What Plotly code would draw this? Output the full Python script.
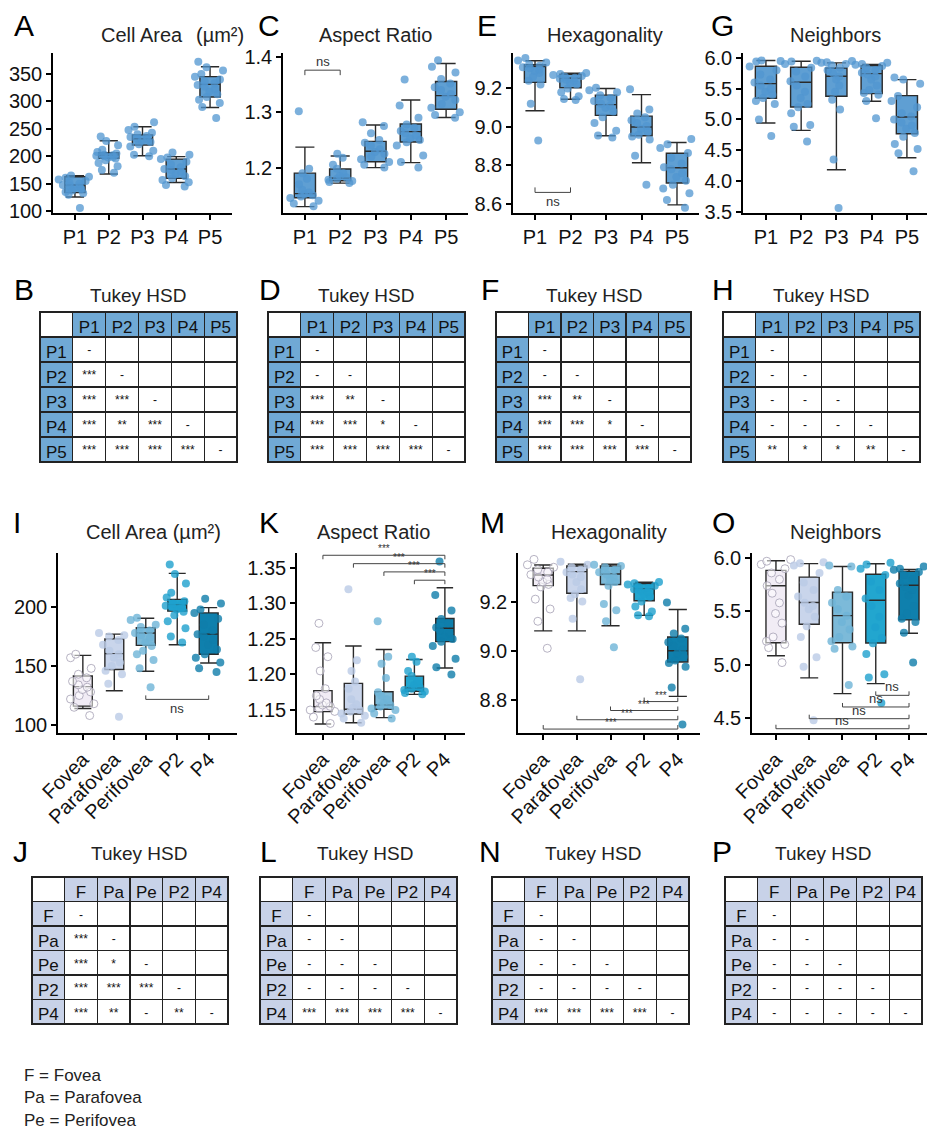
import plotly.graph_objects as go

W, H = 927, 1130
FONT = "Arial, Liberation Sans, sans-serif"


def px(x):
    return x / W


def py(y):
    return 1 - y / H


top_cats = ["P1", "P2", "P3", "P4", "P5"]
bot_cats = ["Fovea", "Parafovea", "Perifovea", "P2", "P4"]

# ---------------- Cell area ----------------
area_p1 = [165, 163, 161, 158, 155, 152, 150, 148, 147, 145, 143, 140, 138, 135, 133, 130, 106]
area_p2 = [236, 228, 220, 212, 208, 205, 203, 202, 201, 200, 199, 198, 196, 193, 188, 182, 175, 170]
area_p3 = [262, 254, 248, 243, 240, 237, 235, 233, 231, 229, 226, 222, 218, 210, 203, 200]
area_p4 = [207, 203, 198, 195, 190, 185, 180, 177, 175, 172, 168, 164, 160, 157, 153, 148, 145]
area_p5 = [372, 362, 356, 350, 345, 340, 336, 333, 330, 327, 323, 318, 313, 308, 303, 297, 290, 270]
area_fov = [160, 157, 148, 143, 140, 137, 134, 132, 130, 128, 125, 122, 118, 115, 108]
area_para = [178, 176, 175, 172, 168, 163, 160, 157, 153, 150, 146, 143, 135, 107]
area_peri = [191, 189, 185, 183, 180, 178, 176, 174, 170, 167, 163, 160, 155, 148, 132]
area_q1 = [134, 196.5, 220.5, 160, 308]
area_med = [148, 202, 232, 177, 331]
area_q3 = [163, 206.5, 239, 195, 345]
area_lo = [126, 168, 201, 152.5, 289]
area_hi = [165, 228.5, 254, 199.5, 363]
area_reg_q1 = [116, 147, 167.5]
area_reg_med = [132.5, 160.5, 178]
area_reg_q3 = [141.5, 173, 182.5]
area_reg_lo = [114, 129, 145.5]
area_reg_hi = [159, 177, 190.5]

# ---------------- Aspect ratio ----------------
ar_p1 = [1.302, 1.198, 1.19, 1.18, 1.17, 1.16, 1.155, 1.152, 1.15, 1.148, 1.145, 1.14, 1.135, 1.13]
ar_p2 = [1.225, 1.218, 1.205, 1.198, 1.19, 1.185, 1.182, 1.18, 1.178, 1.176, 1.174, 1.172]
ar_p3 = [1.282, 1.275, 1.262, 1.25, 1.245, 1.24, 1.233, 1.228, 1.225, 1.22, 1.215, 1.21, 1.205, 1.2]
ar_p4 = [1.359, 1.312, 1.29, 1.278, 1.272, 1.266, 1.262, 1.258, 1.253, 1.25, 1.246, 1.24, 1.222, 1.21, 1.2]
ar_p5 = [1.394, 1.382, 1.372, 1.36, 1.352, 1.345, 1.34, 1.333, 1.328, 1.322, 1.315, 1.308, 1.3, 1.295, 1.29]
ar_fov = [1.272, 1.238, 1.225, 1.205, 1.18, 1.17, 1.165, 1.16, 1.157, 1.155, 1.152, 1.15, 1.148, 1.14, 1.131]
ar_para = [1.32, 1.22, 1.205, 1.19, 1.18, 1.165, 1.158, 1.153, 1.15, 1.148, 1.145, 1.142, 1.138, 1.132]
ar_peri = [1.275, 1.225, 1.215, 1.195, 1.175, 1.17, 1.165, 1.16, 1.157, 1.155, 1.152, 1.15, 1.145, 1.138]
ar_q1 = [1.1456, 1.1763, 1.2106, 1.2462, 1.3053]
ar_med = [1.153, 1.181, 1.2296, 1.265, 1.330]
ar_q3 = [1.19, 1.1976, 1.2473, 1.2787, 1.3556]
ar_lo = [1.1296, 1.172, 1.2, 1.209, 1.2905]
ar_hi = [1.237, 1.221, 1.277, 1.322, 1.388]
ar_reg_q1 = [1.1477, 1.1444, 1.151]
ar_reg_med = [1.1547, 1.151, 1.157]
ar_reg_q3 = [1.1772, 1.1875, 1.1757]
ar_reg_lo = [1.1303, 1.132, 1.1392]
ar_reg_hi = [1.2446, 1.24, 1.2352]

# ---------------- Hexagonality ----------------
hex_p1 = [9.358, 9.345, 9.335, 9.325, 9.318, 9.31, 9.305, 9.298, 9.29, 9.28, 9.26, 9.24, 9.22, 9.12, 8.93]
hex_p2 = [9.28, 9.275, 9.27, 9.265, 9.26, 9.255, 9.25, 9.245, 9.24, 9.23, 9.22, 9.2, 9.18, 9.16, 9.145, 9.14]
hex_p3 = [9.203, 9.19, 9.18, 9.165, 9.15, 9.135, 9.12, 9.11, 9.1, 9.08, 9.05, 9.02, 8.98, 8.955, 8.945]
hex_p4 = [9.196, 9.09, 9.07, 9.05, 9.035, 9.02, 9.005, 8.99, 8.975, 8.96, 8.95, 8.935, 8.85, 8.70]
hex_p5 = [8.937, 8.91, 8.89, 8.865, 8.84, 8.81, 8.79, 8.78, 8.76, 8.74, 8.72, 8.7, 8.68, 8.655, 8.62, 8.58]
hex_fov = [9.372, 9.35, 9.34, 9.33, 9.32, 9.31, 9.3, 9.29, 9.28, 9.27, 9.26, 9.21, 9.17, 9.12, 9.01]
hex_para = [9.362, 9.35, 9.34, 9.33, 9.32, 9.31, 9.3, 9.28, 9.25, 9.23, 9.215, 9.2, 9.13, 8.884]
hex_peri = [9.35, 9.345, 9.34, 9.33, 9.32, 9.31, 9.3, 9.29, 9.28, 9.265, 9.19, 9.165, 9.12, 9.014]
hex_q1 = [9.2316, 9.2035, 9.06, 8.954, 8.709]
hex_med = [9.314, 9.253, 9.116, 9.0, 8.788]
hex_q3 = [9.323, 9.274, 9.165, 9.056, 8.863]
hex_lo = [9.084, 9.144, 8.954, 8.814, 8.595]
hex_hi = [9.344, 9.279, 9.2, 9.168, 8.919]
hex_reg_q1 = [9.265, 9.234, 9.27]
hex_reg_med = [9.3085, 9.322, 9.3125]
hex_reg_q3 = [9.3356, 9.345, 9.345]
hex_reg_lo = [9.0807, 9.081, 9.102]
hex_reg_hi = [9.349, 9.352, 9.352]

# ---------------- Neighbors ----------------
nb_p1 = [5.96, 5.95, 5.94, 5.86, 5.8, 5.73, 5.65, 5.6, 5.55, 5.5, 5.45, 5.4, 5.35, 5.3, 5.25, 5.0, 4.73]
nb_p2 = [5.955, 5.94, 5.9, 5.84, 5.78, 5.7, 5.62, 5.55, 5.45, 5.35, 5.25, 5.2, 5.1, 4.91, 4.88, 4.64]
nb_p3 = [5.95, 5.93, 5.92, 5.9, 5.88, 5.84, 5.8, 5.75, 5.7, 5.65, 5.55, 5.45, 5.32, 5.16, 4.35, 3.56]
nb_p4 = [5.92, 5.9, 5.89, 5.87, 5.84, 5.8, 5.76, 5.73, 5.7, 5.65, 5.55, 5.48, 5.43, 5.4, 5.3, 5.02]
nb_p5 = [5.68, 5.65, 5.58, 5.38, 5.3, 5.2, 5.1, 5.05, 5.0, 4.95, 4.9, 4.85, 4.78, 4.72, 4.6, 4.52, 4.45, 4.16]
nb_fov = [5.985, 5.97, 5.94, 5.9, 5.86, 5.8, 5.74, 5.67, 5.58, 5.48, 5.39, 5.26, 5.22, 5.19, 5.16, 5.02]
nb_para = [5.96, 5.95, 5.93, 5.86, 5.77, 5.7, 5.64, 5.58, 5.55, 5.52, 5.45, 5.36, 5.26, 5.07, 4.98, 4.48]
nb_peri = [5.93, 5.92, 5.7, 5.64, 5.58, 5.52, 5.46, 5.4, 5.33, 5.26, 5.22, 5.17, 5.15, 4.81]
nb_q1 = [5.344, 5.203, 5.376, 5.42, 4.769]
nb_med = [5.582, 5.604, 5.702, 5.745, 5.04]
nb_q3 = [5.864, 5.848, 5.837, 5.875, 5.387]
nb_lo = [4.943, 4.823, 4.183, 5.295, 4.379]
nb_hi = [5.957, 5.946, 5.919, 5.892, 5.647]
nb_reg_q1 = [5.206, 5.379, 5.206]
nb_reg_med = [5.74, 5.583, 5.46]
nb_reg_q3 = [5.884, 5.821, 5.68]
nb_reg_lo = [5.084, 4.877, 4.729]
nb_reg_hi = [5.975, 5.947, 5.92]

# ---------------- Tukey HSD tables ----------------
tab_top_labels = ["P1", "P2", "P3", "P4", "P5"]
tab_bot_labels = ["F", "Pa", "Pe", "P2", "P4"]
tukey_B = [["-", "", "", "", ""], ["***", "-", "", "", ""], ["***", "***", "-", "", ""],
           ["***", "**", "***", "-", ""], ["***", "***", "***", "***", "-"]]
tukey_D = [["-", "", "", "", ""], ["-", "-", "", "", ""], ["***", "**", "-", "", ""],
           ["***", "***", "*", "-", ""], ["***", "***", "***", "***", "-"]]
tukey_F = [["-", "", "", "", ""], ["-", "-", "", "", ""], ["***", "**", "-", "", ""],
           ["***", "***", "*", "-", ""], ["***", "***", "***", "***", "-"]]
tukey_H = [["-", "", "", "", ""], ["-", "-", "", "", ""], ["-", "-", "-", "", ""],
           ["-", "-", "-", "-", ""], ["**", "*", "*", "**", "-"]]
tukey_J = [["-", "", "", "", ""], ["***", "-", "", "", ""], ["***", "*", "-", "", ""],
           ["***", "***", "***", "-", ""], ["***", "**", "-", "**", "-"]]
tukey_L = [["-", "", "", "", ""], ["-", "-", "", "", ""], ["-", "-", "-", "", ""],
           ["-", "-", "-", "-", ""], ["***", "***", "***", "***", "-"]]
tukey_N = [["-", "", "", "", ""], ["-", "-", "", "", ""], ["-", "-", "-", "", ""],
           ["-", "-", "-", "-", ""], ["***", "***", "***", "***", "-"]]
tukey_P = [["-", "", "", "", ""], ["-", "-", "", "", ""], ["-", "-", "-", "", ""],
           ["-", "-", "-", "-", ""], ["-", "-", "-", "-", "-"]]

legend_lines = ["F = Fovea", "Pa = Parafovea", "Pe = Perifovea"]

# ---------------- styling ----------------
TOP_FILL = "#5f9fd3"
TOP_PT = "rgba(80,150,208,0.75)"
BOT_FILL = ["#f1ecf5", "#c9d5eb", "#7cbad9", "#22a6cf", "#0f80ad"]
BOT_PT = ["rgba(255,255,255,0.55)", "rgba(186,202,230,0.8)", "rgba(110,180,215,0.8)",
          "rgba(30,160,205,0.8)", "rgba(15,125,170,0.8)"]
BOT_PT_LINE = ["rgba(165,160,180,0.8)", "rgba(0,0,0,0)", "rgba(0,0,0,0)", "rgba(0,0,0,0)", "rgba(0,0,0,0)"]
TOP_HDR = "#70a9d5"
BOT_HDR = "#c8d2e8"

fig = go.Figure()

panels = {
    1: dict(x=(53, 232), y=(53, 213), xr=[-0.65, 4.65], yr=[97, 388], dt=50, t0=100, fmt="d"),
    2: dict(x=(283, 468), y=(53, 213), xr=[-0.62, 4.62], yr=[1.118, 1.407], dt=0.1, t0=1.2, fmt=".1f"),
    3: dict(x=(513, 699), y=(53, 213), xr=[-0.62, 4.62], yr=[8.553, 9.384], dt=0.2, t0=8.6, fmt=".1f"),
    4: dict(x=(743, 927), y=(53, 213), xr=[-0.65, 4.57], yr=[3.48, 6.08], dt=0.5, t0=3.5, fmt=".1f"),
    5: dict(x=(58, 237), y=(553, 733), xr=[-0.79, 4.9], yr=[93.2, 245.8], dt=50, t0=100, fmt="d"),
    6: dict(x=(297, 465), y=(553, 733), xr=[-0.85, 4.66], yr=[1.1176, 1.371], dt=0.05, t0=1.15, fmt=".2f"),
    7: dict(x=(518, 700), y=(553, 733), xr=[-0.75, 4.66], yr=[8.665, 9.398], dt=0.2, t0=8.8, fmt=".1f"),
    8: dict(x=(752, 927), y=(553, 733), xr=[-0.72, 4.54], yr=[4.36, 6.047], dt=0.5, t0=4.5, fmt=".1f"),
}


def axis_names(n):
    return ("x" if n == 1 else f"x{n}"), ("y" if n == 1 else f"y{n}")


def add_box(n, cat, q1, med, q3, lo, hi, fill, pts, ptcol, ptline):
    xa, ya = axis_names(n)
    fig.add_trace(go.Box(x=[cat], q1=[q1], median=[med], q3=[q3], lowerfence=[lo], upperfence=[hi],
                         xaxis=xa, yaxis=ya, fillcolor=fill, width=0.6, whiskerwidth=0.9,
                         line=dict(color="#2a2a2a", width=1.4), boxpoints=False, showlegend=False,
                         hoverinfo="skip"))
    fig.add_trace(go.Box(x=[cat] * len(pts), y=pts, xaxis=xa, yaxis=ya, width=1.0,
                         boxpoints="all", jitter=1.0, pointpos=0,
                         fillcolor="rgba(0,0,0,0)", line=dict(color="rgba(0,0,0,0)", width=0),
                         marker=dict(color=ptcol, size=8, line=dict(color=ptline, width=1)),
                         showlegend=False, hoverinfo="y"))


top_sets = [
    (1, [area_p1, area_p2, area_p3, area_p4, area_p5], area_q1, area_med, area_q3, area_lo, area_hi),
    (2, [ar_p1, ar_p2, ar_p3, ar_p4, ar_p5], ar_q1, ar_med, ar_q3, ar_lo, ar_hi),
    (3, [hex_p1, hex_p2, hex_p3, hex_p4, hex_p5], hex_q1, hex_med, hex_q3, hex_lo, hex_hi),
    (4, [nb_p1, nb_p2, nb_p3, nb_p4, nb_p5], nb_q1, nb_med, nb_q3, nb_lo, nb_hi),
]
for n, groups, q1, md, q3, lo, hi in top_sets:
    for i, cat in enumerate(top_cats):
        add_box(n, cat, q1[i], md[i], q3[i], lo[i], hi[i], TOP_FILL, groups[i], TOP_PT, "rgba(0,0,0,0)")

bot_sets = [
    (5, [area_fov, area_para, area_peri], area_reg_q1, area_reg_med, area_reg_q3, area_reg_lo, area_reg_hi,
     [area_p2, area_p4], area_q1, area_med, area_q3, area_lo, area_hi),
    (6, [ar_fov, ar_para, ar_peri], ar_reg_q1, ar_reg_med, ar_reg_q3, ar_reg_lo, ar_reg_hi,
     [ar_p2, ar_p4], ar_q1, ar_med, ar_q3, ar_lo, ar_hi),
    (7, [hex_fov, hex_para, hex_peri], hex_reg_q1, hex_reg_med, hex_reg_q3, hex_reg_lo, hex_reg_hi,
     [hex_p2, hex_p4], hex_q1, hex_med, hex_q3, hex_lo, hex_hi),
    (8, [nb_fov, nb_para, nb_peri], nb_reg_q1, nb_reg_med, nb_reg_q3, nb_reg_lo, nb_reg_hi,
     [nb_p2, nb_p4], nb_q1, nb_med, nb_q3, nb_lo, nb_hi),
]
for n, regs, rq1, rmd, rq3, rlo, rhi, pg, q1, md, q3, lo, hi in bot_sets:
    for i in range(3):
        add_box(n, bot_cats[i], rq1[i], rmd[i], rq3[i], rlo[i], rhi[i], BOT_FILL[i], regs[i], BOT_PT[i], BOT_PT_LINE[i])
    for k, (cat, ti) in enumerate([("P2", 1), ("P4", 3)]):
        add_box(n, cat, q1[ti], md[ti], q3[ti], lo[ti], hi[ti], BOT_FILL[3 + k], pg[k], BOT_PT[3 + k], BOT_PT_LINE[3 + k])

layout_axes = {}
for n, p in panels.items():
    xa = "xaxis" if n == 1 else f"xaxis{n}"
    ya = "yaxis" if n == 1 else f"yaxis{n}"
    xn, yn = axis_names(n)
    common = dict(showline=True, linecolor="black", linewidth=1.5, ticks="outside", ticklen=5,
                  tickwidth=1.5, tickcolor="black", showgrid=False, zeroline=False, automargin=False,
                  tickfont=dict(size=20, color="#111", family=FONT))
    layout_axes[xa] = dict(common, type="category", categoryorder="array",
                           categoryarray=top_cats if n <= 4 else bot_cats,
                           range=p["xr"], domain=[px(p["x"][0]), px(p["x"][1])], anchor=yn,
                           tickangle=0 if n <= 4 else -45, fixedrange=True)
    layout_axes[ya] = dict(common, range=p["yr"], domain=[py(p["y"][1]), py(p["y"][0])], anchor=xn,
                           tick0=p["t0"], dtick=p["dt"], tickformat=p["fmt"], fixedrange=True)

shapes = []
annotations = []


def bracket(n, i, j, y, tick_px, label, above, fsize):
    p = panels[n]
    xn, yn = axis_names(n)
    t = tick_px * (p["yr"][1] - p["yr"][0]) / (p["y"][1] - p["y"][0])
    ln = dict(color="#444", width=1)
    shapes.append(dict(type="line", xref=xn, yref=yn, x0=i, x1=j, y0=y, y1=y, line=ln))
    shapes.append(dict(type="line", xref=xn, yref=yn, x0=i, x1=i, y0=y, y1=y + t, line=ln))
    shapes.append(dict(type="line", xref=xn, yref=yn, x0=j, x1=j, y0=y, y1=y + t, line=ln))
    annotations.append(dict(xref=xn, yref=yn, x=(i + j) / 2, y=y, text=label, showarrow=False,
                            yanchor="bottom" if above else "top", yshift=-1 if above else 0,
                            font=dict(size=fsize, color="#333", family=FONT)))


bracket(2, 0, 1, 1.376, -5, "ns", True, 13)
bracket(3, 0, 1, 8.66, 5, "ns", False, 13)
bracket(5, 2, 4, 121.7, 4, "ns", False, 13)
for y, i in zip([1.3678, 1.356, 1.3444, 1.3327], [0, 1, 2, 3]):
    bracket(6, i, 4, y, -4, "***", True, 10)
for y, i in zip([8.793, 8.7566, 8.719, 8.681], [3, 2, 1, 0]):
    bracket(7, i, 4, y, 4, "***", True, 10)
for y, i in zip([4.713, 4.604, 4.494, 4.40], [3, 2, 1, 0]):
    bracket(8, i, 4, y, 4, "ns", True, 13)


def text(x, y, s, size, xanchor="center", color="#111"):
    annotations.append(dict(xref="paper", yref="paper", x=px(x), y=py(y), text=s, showarrow=False,
                            xanchor=xanchor, yanchor="middle", font=dict(size=size, color=color, family=FONT)))


for s, x, y in [("A", 24, 25), ("C", 269, 25), ("E", 487, 25), ("G", 722, 25),
                ("B", 24, 290), ("D", 270, 290), ("F", 490, 290), ("H", 723, 290),
                ("I", 17, 522), ("K", 269, 522), ("M", 492, 522), ("O", 723, 522),
                ("J", 20, 851), ("L", 268, 851), ("N", 490, 851), ("P", 722, 851)]:
    text(x, y, s, 30, color="black")

for s, x, y in [("Cell Area", 142, 35), ("(µm²)", 220, 35), ("Aspect Ratio", 375, 35),
                ("Hexagonality", 605, 35), ("Neighbors", 835, 35),
                ("Cell Area (µm²)", 153, 532), ("Aspect Ratio", 373, 532),
                ("Hexagonality", 609, 532), ("Neighbors", 835, 532)]:
    text(x, y, s, 20, color="#222")

for x, y in [(138, 295), (366, 295), (594, 295), (821, 295),
             (139, 853), (365, 853), (593, 853), (823, 853)]:
    text(x, y, "Tukey HSD", 19, color="#222")

for k, s in enumerate(legend_lines):
    text(22, 1075 + 22.5 * k, s, 17, xanchor="left", color="#222")


def add_table(x0, x1, y0, y1, labels, cells, hdr, row_h):
    cols = [labels] + [[cells[r][c] for r in range(5)] for c in range(5)]
    fig.add_trace(go.Table(
        domain=dict(x=[px(x0), px(x1)], y=[py(y1 + 3), py(y0)]),
        columnwidth=[1] * 6,
        header=dict(values=[""] + labels, fill=dict(color=["white"] + [hdr] * 5),
                    line=dict(color="#222", width=1.2), align="center", height=row_h,
                    font=dict(size=17, color="#111", family=FONT)),
        cells=dict(values=cols, fill=dict(color=[[hdr] * 5] + [["white"] * 5] * 5),
                   line=dict(color="#222", width=1.2), align="center", height=row_h,
                   font=dict(size=[17, 12, 12, 12, 12, 12], color="#111", family=FONT)),
    ))


add_table(40, 237, 312, 462, tab_top_labels, tukey_B, TOP_HDR, 25)
add_table(268, 465, 312, 462, tab_top_labels, tukey_D, TOP_HDR, 25)
add_table(496, 692, 312, 462, tab_top_labels, tukey_F, TOP_HDR, 25)
add_table(723, 920, 312, 462, tab_top_labels, tukey_H, TOP_HDR, 25)
add_table(32, 228, 877, 1024, tab_bot_labels, tukey_J, BOT_HDR, 24.5)
add_table(260, 457, 877, 1024, tab_bot_labels, tukey_L, BOT_HDR, 24.5)
add_table(492, 689, 877, 1024, tab_bot_labels, tukey_N, BOT_HDR, 24.5)
add_table(725, 922, 877, 1024, tab_bot_labels, tukey_P, BOT_HDR, 24.5)

fig.update_layout(template="none", width=W, height=H, margin=dict(l=0, r=0, t=0, b=0, pad=0),
                  paper_bgcolor="white", plot_bgcolor="white", boxmode="overlay", showlegend=False,
                  shapes=shapes, annotations=annotations, font=dict(family=FONT), **layout_axes)

fig.write_html("out.html", config={"displayModeBar": False},
               post_script="document.body.style.margin='0';document.body.style.padding='0';"
                           "document.documentElement.style.overflow='hidden';")
